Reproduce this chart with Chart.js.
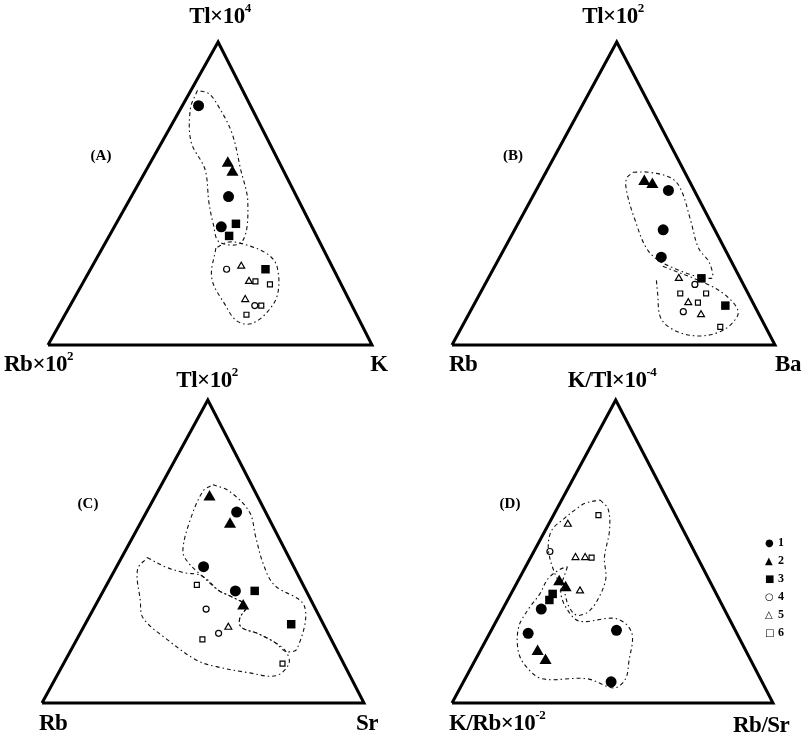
<!DOCTYPE html>
<html>
<head>
<meta charset="utf-8">
<script src="https://cdn.jsdelivr.net/npm/chart.js@4.4.1/dist/chart.umd.min.js"></script>
<style>
  body { margin: 0; background: #fff; }
  #wrap { position: relative; width: 804px; height: 741px; overflow: hidden;
          font-family: "Liberation Serif", "DejaVu Serif", serif; font-weight: bold; color: #000; }
  .panel { position: absolute; width: 402px; height: 371px; }
  .lbl { position: absolute; font-size: 23px; line-height: 1; white-space: nowrap; letter-spacing: -0.5px; }
  .lbl sup { font-size: 13px; vertical-align: top; position: relative; top: -3px; }
  .c { transform: translate(-50%, -50%); }
  .l { transform: translate(0, -50%); }
  .tag { position: absolute; font-size: 15px; transform: translate(-50%, -50%); }
  .leg { position: absolute; left: 765px; font-size: 12px; line-height: 1; white-space: nowrap; }
  .leg span { display: inline-block; width: 13px; font-family: "DejaVu Sans", sans-serif; font-size: 10px; }
</style>
</head>
<body>
<div id="wrap">
  <div class="panel" style="left:0;top:0"><canvas id="pA" width="402" height="371"></canvas></div>
  <div class="panel" style="left:402px;top:0"><canvas id="pB" width="402" height="371"></canvas></div>
  <div class="panel" style="left:0;top:370px"><canvas id="pC" width="402" height="371"></canvas></div>
  <div class="panel" style="left:402px;top:370px"><canvas id="pD" width="402" height="371"></canvas></div>

  <div class="lbl c" style="left:220px;top:15px">Tl×10<sup>4</sup></div>
  <div class="lbl l" style="left:4px;top:363px">Rb×10<sup>2</sup></div>
  <div class="lbl c" style="left:379px;top:363px">K</div>

  <div class="lbl c" style="left:613px;top:15px">Tl×10<sup>2</sup></div>
  <div class="lbl l" style="left:449px;top:363px">Rb</div>
  <div class="lbl c" style="left:788px;top:363px">Ba</div>

  <div class="lbl c" style="left:207px;top:379px">Tl×10<sup>2</sup></div>
  <div class="lbl l" style="left:39px;top:722px">Rb</div>
  <div class="lbl c" style="left:367px;top:722px">Sr</div>

  <div class="lbl c" style="left:612px;top:379px">K/Tl×10<sup>-4</sup></div>
  <div class="lbl l" style="left:449px;top:722px">K/Rb×10<sup>-2</sup></div>
  <div class="lbl l" style="left:733px;top:724px">Rb/Sr</div>

  <div class="tag" style="left:101px;top:155px">(A)</div>
  <div class="tag" style="left:513px;top:155px">(B)</div>
  <div class="tag" style="left:88px;top:503px">(C)</div>
  <div class="tag" style="left:510px;top:503px">(D)</div>

  <div id="legend"></div>
</div>

<script>
// compositions in %, order: [top, left, right]
// (A) Tl×10^4 - Rb×10^2 - K
const a1 = [[79,16,5],[49,21,30],[39,28,33]];
const a2 = [[60,16,24],[57,16,27]];
const a3 = [[40,23,37],[36,27,37],[25,21,54]];
const a4 = [[25,33,42],[13,30,57]];
const a5 = [[26,28,46],[21,28,51],[15,32,53]];
const a6 = [[21,26,53],[20,22,58],[13,28,59],[10,34,56]];
const aEnv1 = [[84,14,2],[78,19,3],[67,24,9],[58,24,18],[47,28,25],[40,30,30],[34,31,35],[34,24,42],[47,16,37],[58,13,29],[70,10,20],[79,10,11],[83,11,6],[84,14,2]];
const aEnv2 = [[32,33,35],[22,39,39],[13,39,48],[8,38,54],[7,34,59],[11,27,62],[17,21,62],[26,17,57],[30,18,52],[33,23,44],[34,28,38],[32,33,35]];

// (B) Tl×10^2 - Rb - Ba
const b1 = [[51,8,41],[38,16,46],[29,21,50]];
const b2 = [[54,14,32],[53,12,35]];
const b3 = [[22,12,66],[13,9,78]];
const b4 = [[20,15,65],[11,23,66]];
const b5 = [[22,19,59],[14,20,66],[10,18,72]];
const b6 = [[17,21,62],[17,13,70],[14,17,69],[6,14,80]];
const bEnv1 = [[57,16,27],[57,11,32],[55,5,40],[51,4,45],[41,6,53],[32,8,60],[27,7,66],[22,9,69],[26,20,54],[31,24,45],[42,23,35],[51,21,28],[55,19,26],[57,16,27]];
const bEnv2 = [[26,22,52],[20,11,69],[16,7,77],[11,6,83],[7,10,83],[4,16,80],[3,23,74],[5,29,66],[9,31,60],[17,28,55],[22,26,52]];

// (C) Tl×10^2 - Rb - Sr
const c1 = [[63,9,28],[45,28,27],[37,22,41]];
const c2 = [[68,15,17],[59,13,28],[32,22,46]];
const c3 = [[37,16,47],[26,10,64]];
const c4 = [[31,34,35],[23,34,43]];
const c5 = [[25,30,45]];
const c6 = [[39,33,28],[21,40,39],[13,19,68]];
const cEnv1 = [[72,12,16],[70,8,22],[63,5,32],[55,7,38],[46,9,45],[39,9,52],[32,3,65],[18,12,70],[17,16,67],[20,18,62],[23,22,55],[25,26,49],[28,25,47],[32,21,47],[35,24,41],[37,27,36],[42,30,28],[46,32,22],[50,32,18],[60,25,15],[70,16,14],[72,12,16]];
const cEnv2 = [[48,44,8],[45,40,15],[43,35,22],[42,30,28],[37,27,36],[35,24,41],[32,21,47],[28,25,47],[25,26,49],[23,22,55],[20,18,62],[17,16,67],[13,17,70],[9,23,68],[10,31,59],[12,40,48],[14,45,41],[21,51,28],[28,55,17],[34,53,13],[44,49,7],[48,44,8]];

// (D) K/Tl×10^-4 - K/Rb×10^-2 - Rb/Sr
const d1 = [[31,57,12],[23,65,12],[24,37,39],[7,47,46]];
const d2 = [[40,47,13],[38,46,16],[17,65,18],[14,64,22]];
const d3 = [[36,51,13],[34,53,13]];
const d4 = [[50,45,5]];
const d5 = [[59,35,6],[48,38,14],[48,35,17],[37,42,21]];
const d6 = [[62,24,14],[48,33,19]];
const dEnv1 = [[67,21,12],[64,20,16],[57,23,20],[48,29,23],[41,32,27],[34,38,28],[30,43,27],[29,47,24],[32,48,20],[37,47,16],[43,47,10],[51,45,4],[57,41,2],[61,35,4],[64,30,6],[66,26,8],[67,21,12]];
const dEnv2 = [[45,42,13],[37,48,15],[31,49,20],[27,47,26],[28,36,36],[26,33,41],[22,33,45],[14,38,48],[8,42,50],[5,47,48],[8,54,38],[8,68,24],[12,71,17],[17,71,12],[25,67,8],[31,61,8],[36,55,9],[41,50,9],[44,45,11],[45,42,13]];

const legendNames = ['1', '2', '3', '4', '5', '6'];

// marker look for the six groups
const marks = [
  { pointStyle: 'circle',   radius: 5.5, filled: true },
  { pointStyle: 'triangle', radius: 7,   filled: true },
  { pointStyle: 'rect',     radius: 6,   filled: true },
  { pointStyle: 'circle',   radius: 3,   filled: false },
  { pointStyle: 'triangle', radius: 4,   filled: false },
  { pointStyle: 'rect',     radius: 3.5, filled: false }
];

function tern(p, apexX) {
  const s = p[0] + p[1] + p[2];
  const a = p[0] / s, c = p[2] / s;
  return { x: c + a * apexX, y: a };
}

function makePanel(id, pad, apexX, groups, envs) {
  const datasets = [];
  datasets.push({
    data: [[0,100,0],[0,0,100],[100,0,0],[0,100,0]].map(p => tern(p, apexX)),
    showLine: true, borderColor: '#000', borderWidth: 3, pointRadius: 0,
    borderJoinStyle: 'miter', clip: false
  });
  envs.forEach(e => datasets.push({
    data: e.map(p => tern(p, apexX)),
    showLine: true, borderColor: '#111', borderWidth: 1.1, borderDash: [4, 3, 1.5, 3],
    tension: 0.35, pointRadius: 0, clip: false
  }));
  groups.forEach((g, i) => {
    const m = marks[i];
    datasets.push({
      label: legendNames[i],
      data: g.map(p => tern(p, apexX)),
      pointStyle: m.pointStyle, pointRadius: m.radius,
      backgroundColor: m.filled ? '#000' : '#fff',
      borderColor: '#000', borderWidth: m.filled ? 0 : 1.2,
      clip: false
    });
  });
  new Chart(document.getElementById(id), {
    type: 'scatter',
    data: { datasets },
    options: {
      responsive: false, animation: false,
      layout: { padding: pad },
      scales: {
        x: { type: 'linear', min: 0, max: 1, display: false },
        y: { type: 'linear', min: 0, max: 1, display: false }
      },
      plugins: { legend: { display: false }, tooltip: { enabled: false } }
    }
  });
}

makePanel('pA', { left: 48, right: 30, top: 42, bottom: 26 }, 0.525, [a1,a2,a3,a4,a5,a6], [aEnv1, aEnv2]);
makePanel('pB', { left: 50, right: 29, top: 42, bottom: 26 }, 0.51,  [b1,b2,b3,b4,b5,b6], [bEnv1, bEnv2]);
makePanel('pC', { left: 42, right: 38, top: 30, bottom: 38 }, 0.515, [c1,c2,c3,c4,c5,c6], [cEnv1, cEnv2]);
makePanel('pD', { left: 50, right: 31, top: 30, bottom: 38 }, 0.51,  [d1,d2,d3,d4,d5,d6], [dEnv1, dEnv2]);

// legend
const glyphs = ['●', '▲', '■', '○', '△', '□'];
const leg = document.getElementById('legend');
legendNames.forEach((n, i) => {
  const d = document.createElement('div');
  d.className = 'leg';
  d.style.top = (536 + i * 18) + 'px';
  d.innerHTML = '<span>' + glyphs[i] + '</span>' + n;
  leg.appendChild(d);
});
</script>
</body>
</html>
